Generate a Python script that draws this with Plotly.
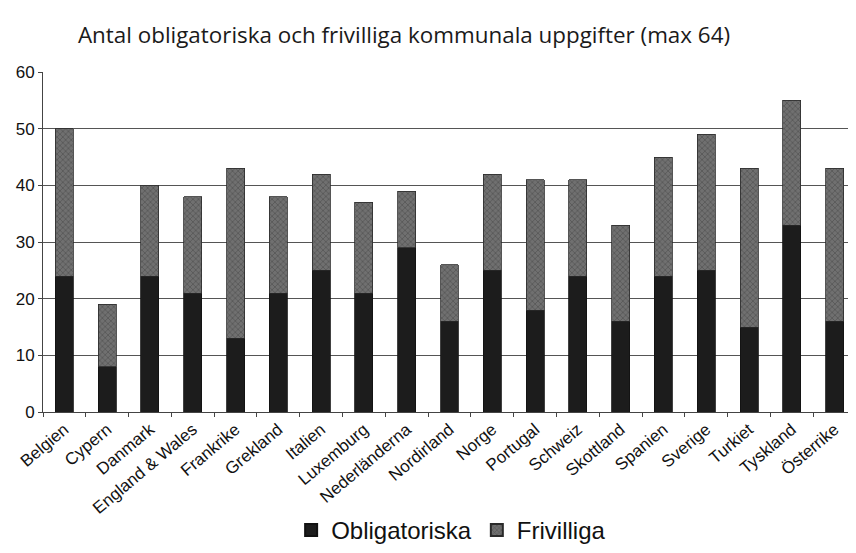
import plotly.graph_objects as go

countries = ["Belgien", "Cypern", "Danmark", "England & Wales", "Frankrike", "Grekland",
             "Italien", "Luxemburg", "Nederländerna", "Nordirland", "Norge", "Portugal",
             "Schweiz", "Skottland", "Spanien", "Sverige", "Turkiet", "Tyskland", "Österrike"]
totals = [50, 19, 40, 38, 43, 38, 42, 37, 39, 26, 42, 41, 41, 33, 45, 49, 43, 55, 43]
obligatoriska = [24, 8, 24, 21, 13, 21, 25, 21, 29, 16, 25, 18, 24, 16, 24, 25, 15, 33, 16]
frivilliga = [t - o for t, o in zip(totals, obligatoriska)]
y_ticks = [0, 10, 20, 30, 40, 50, 60]

fig = go.Figure()
fig.add_trace(go.Bar(
    x=countries, y=obligatoriska, name="Obligatoriska",
    marker=dict(color="#1c1c1c", line=dict(color="#111111", width=0.8)),
))
fig.add_trace(go.Bar(
    x=countries, y=frivilliga, name="Frivilliga",
    marker=dict(color="#5e5e5e", line=dict(color="#2a2a2a", width=0.8),
                pattern=dict(shape="x", fgcolor="#3a3a3a", bgcolor="#707070", size=4, solidity=0.35)),
))

# page body has an 8px default margin, so the figure is sized/offset to compensate
fig.update_layout(
    barmode="stack",
    bargap=0.58,
    width=848, height=545,
    paper_bgcolor="white", plot_bgcolor="white",
    margin=dict(l=35, r=0, t=64, b=141),
    title=dict(text="Antal obligatoriska och frivilliga kommunala uppgifter (max 64)",
               x=0.467, xanchor="center", y=0.951, yanchor="middle",
               font=dict(family="Open Sans", size=22.4, color="#1a1a1a")),
    font=dict(family="Liberation Sans, Arial", color="#111111"),
    legend=dict(orientation="h", x=0.502, xanchor="center",
                yref="container", y=-0.022, yanchor="bottom",
                font=dict(size=24, color="#111111"), traceorder="normal",
                itemwidth=30, itemsizing="constant"),
    showlegend=True,
)
fig.update_xaxes(
    tickangle=-40, tickfont=dict(size=17), showline=True, linecolor="#444444",
    ticks="outside", tickson="boundaries", ticklen=4, tickcolor="#444444",
    showgrid=False, automargin=False,
)
fig.update_yaxes(
    range=[0, 60], tickvals=y_ticks, tickfont=dict(size=17),
    showgrid=True, gridcolor="#555555", gridwidth=1,
    showline=True, linecolor="#444444", ticks="outside", ticklen=4, tickcolor="#444444",
    zeroline=False, automargin=False,
)

fig.write_html("out.html")
